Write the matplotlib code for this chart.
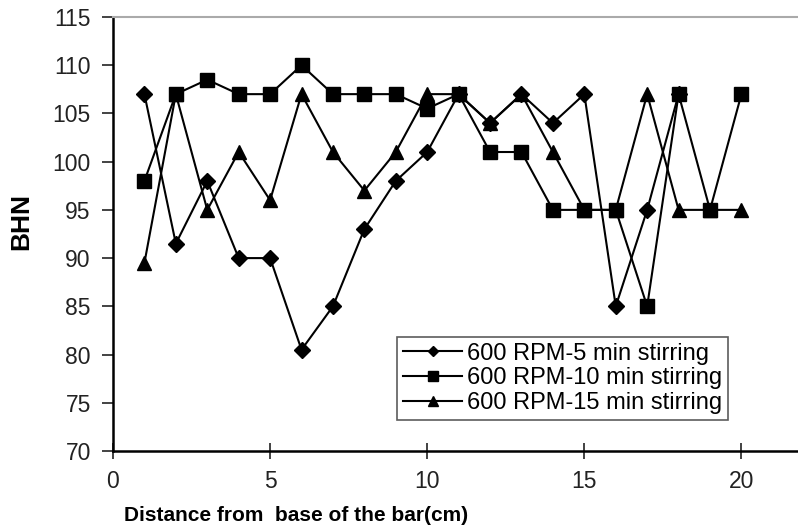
import matplotlib.pyplot as plt

# Data
dist_5 = list(range(1, 19))
bhn_5 = [107, 91.5, 98, 90, 90, 80.5, 85, 93, 98, 101, 107, 104, 107, 104, 107, 85, 95, 107]

dist_10 = list(range(1, 21))
bhn_10 = [98, 107, 108.5, 107, 107, 110, 107, 107, 107, 105.5,
          107, 101, 101, 95, 95, 95, 85, 107, 95, 107]

dist_15 = list(range(1, 21))
bhn_15 = [89.5, 107, 95, 101, 96, 107, 101, 97, 101, 107,
          107, 104, 107, 101, 95, 95, 107, 95, 95, 95]

labels = ["600 RPM-5 min stirring", "600 RPM-10 min stirring", "600 RPM-15 min stirring"]

plt.rcParams['font.family'] = ['Liberation Sans', 'DejaVu Sans']

fig = plt.figure(figsize=(7.98, 5.31), dpi=100)
ax = fig.add_axes([0.1416, 0.1507, 0.8584, 0.8173])

ax.plot(dist_5, bhn_5, marker="D", markersize=8, color="black", lw=1.5, label=labels[0])
ax.plot(dist_10, bhn_10, marker="s", markersize=10, color="black", lw=1.5, label=labels[1])
ax.plot(dist_15, bhn_15, marker="^", markersize=10, color="black", lw=1.5, label=labels[2])

ax.set_xlim(0, 21.8)
ax.set_ylim(70, 115)
ax.set_xticks([0, 5, 10, 15, 20])
ax.set_yticks(range(70, 116, 5))
ax.tick_params(axis="both", labelsize=16.5, width=1.2, colors="#222222")
ax.tick_params(axis="y", length=8, pad=8)
ax.tick_params(axis="x", direction="inout", length=12, pad=8)

for side in ["left", "bottom"]:
    ax.spines[side].set_linewidth(1.8)
ax.spines["top"].set_color("#aaaaaa")
ax.spines["top"].set_linewidth(1.5)
ax.spines["right"].set_visible(False)

ax.set_xlabel("Distance from  base of the bar(cm)", fontsize=15, fontweight="bold")
ax.xaxis.set_label_coords(0.267, -0.127)
ax.set_ylabel("BHN", fontsize=19, fontweight="bold")
ax.yaxis.set_label_coords(-0.117, 0.528)

leg = ax.legend(loc="lower right", bbox_to_anchor=(0.898, 0.071), borderaxespad=0,
                fontsize=17, frameon=True, fancybox=False, edgecolor="#333333",
                handlelength=2.5, borderpad=0.25, labelspacing=0.12,
                handletextpad=0.2, markerscale=0.7)
leg.get_frame().set_linewidth(1.2)

fig.savefig("out.png", dpi=100)
